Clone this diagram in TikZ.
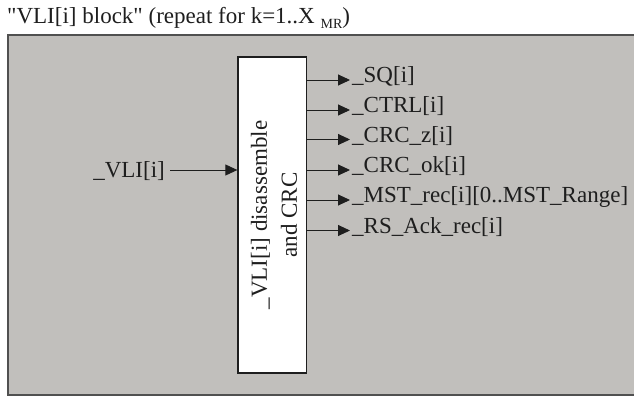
\documentclass[tikz,border=0pt]{standalone}
\usepackage{fontspec}
\setmainfont{Liberation Serif}[Ligatures=TeXOff]
\usetikzlibrary{arrows.meta}
\definecolor{panel}{RGB}{193,191,188}
\definecolor{edgegrey}{RGB}{80,80,80}
\definecolor{ink}{RGB}{30,30,30}
\begin{document}
\begin{tikzpicture}[x=1pt,y=-1pt,
  lbl/.style={font=\fontsize{23}{30}\selectfont, inner sep=0pt, text=ink},
  sig/.style={draw=ink, line width=0.9pt, -{Triangle[length=12pt,width=11pt]}},
  blockbox/.style={draw=ink, fill=white, line width=1.3pt, minimum width=68.5pt, minimum height=316pt, inner sep=0pt}]
\useasboundingbox (0,0) rectangle (634,396);
\fill[panel] (8,35) rectangle (636,395);
\draw[edgegrey, line width=1.5pt] (636,35) -- (8,35) -- (8,395) -- (636,395);
\node[lbl, anchor=base west] (title) at (7,24) {"VLI[i] block" (repeat for k=1..X \raisebox{-5pt}{\fontsize{14}{14}\selectfont MR})};
\node[blockbox] (blk) at (272.25,215) {};
\node[lbl, rotate=90, align=center] (blktext) at (274,215) {\_VLI[i] disassemble\\and CRC};
% input
\node[lbl, anchor=base east] (vin) at (165,177.5) {\_VLI[i]};
\coordinate (pin) at (170,170);
\draw[sig] (pin) -- (blk.west |- pin);
% outputs
\coordinate (p1) at (350,80);
\coordinate (p2) at (350,110);
\coordinate (p3) at (350,139.5);
\coordinate (p4) at (350,170);
\coordinate (p5) at (350,200);
\coordinate (p6) at (350,230.5);
\node[lbl, anchor=base west] (o1) at (352,82.5) {\_SQ[i]};
\node[lbl, anchor=base west] (o2) at (352,112.5) {\_CTRL[i]};
\node[lbl, anchor=base west] (o3) at (352,142) {\_CRC\_z[i]};
\node[lbl, anchor=base west] (o4) at (352,172.5) {\_CRC\_ok[i]};
\node[lbl, anchor=base west] (o5) at (352,202.5) {\_MST\_rec[i][0..MST\_Range]};
\node[lbl, anchor=base west] (o6) at (352,233) {\_RS\_Ack\_rec[i]};
\foreach \p in {p1,p2,p3,p4,p5,p6}{
  \draw[sig] (blk.east |- \p) -- (\p);
}
\end{tikzpicture}
\end{document}
